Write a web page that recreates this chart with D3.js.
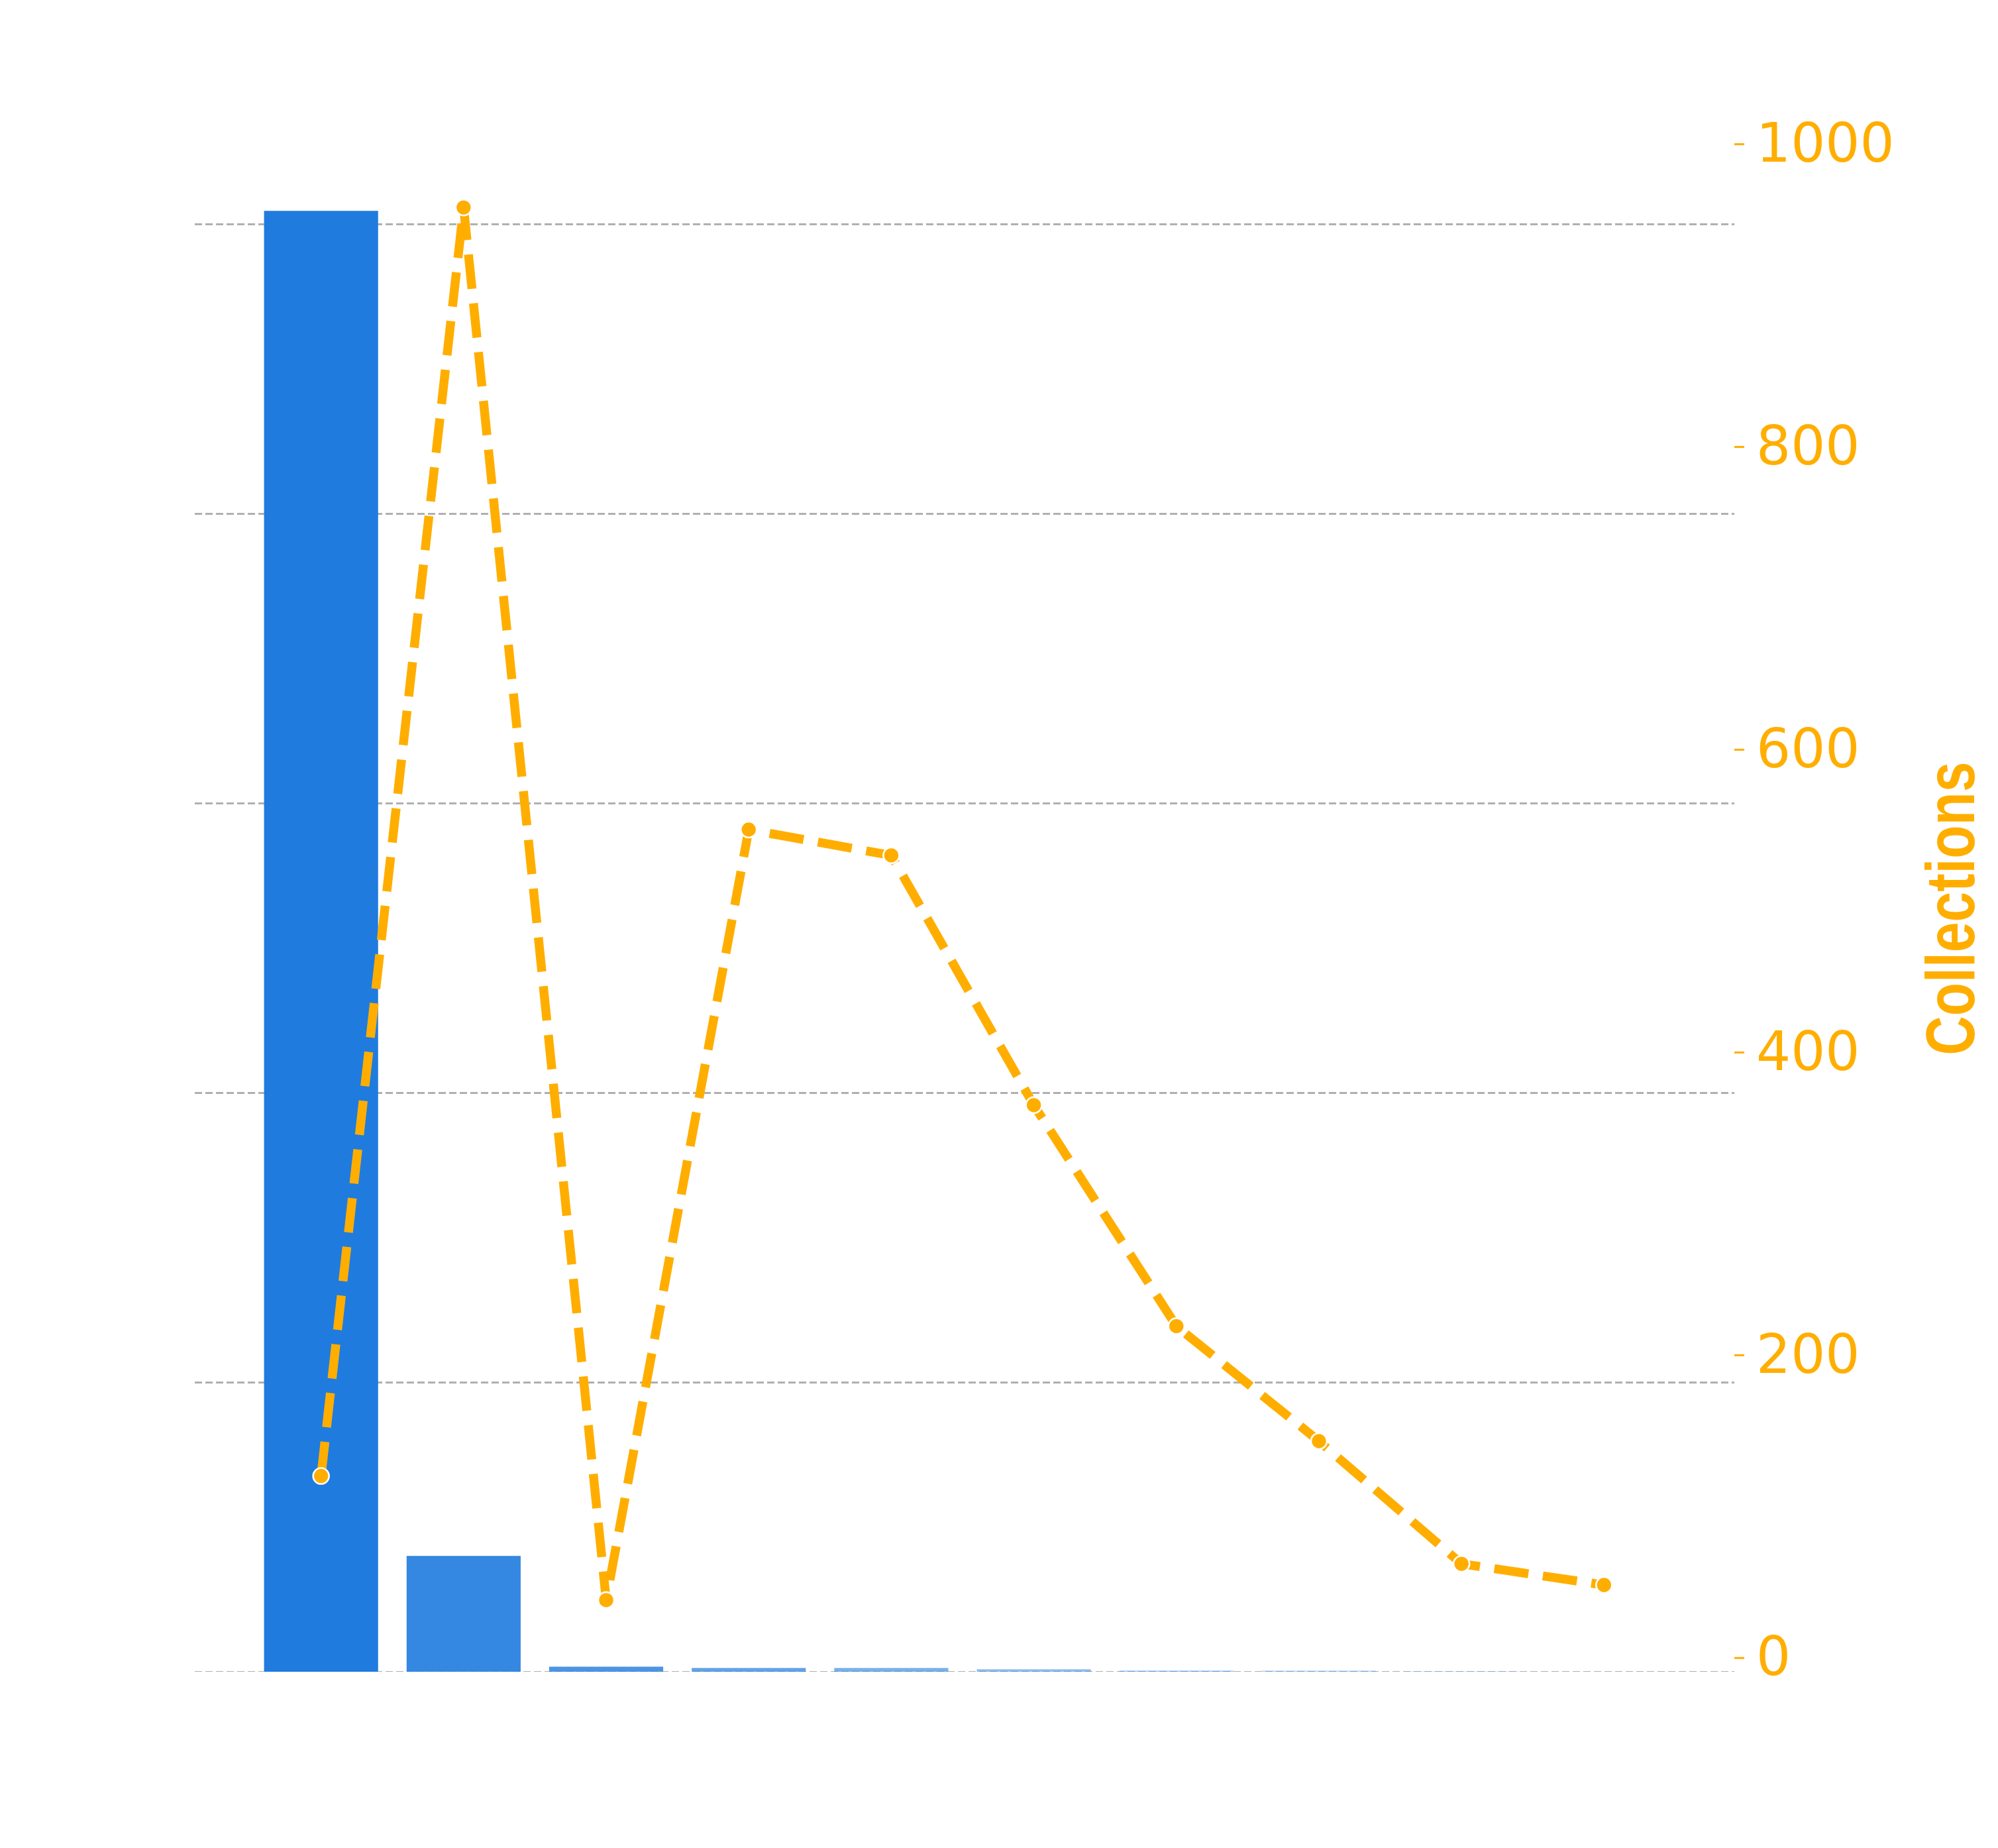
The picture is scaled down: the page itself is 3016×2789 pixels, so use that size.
<!DOCTYPE html>
<html>
<head>
<meta charset="utf-8">
<script src="https://cdn.jsdelivr.net/npm/d3@7"></script>
<style>
  body { margin: 0; background: #ffffff; }
</style>
</head>
<body>
<svg id="chart"></svg>
<script>
// chart values
const categories = ["1", "2", "3", "4", "5", "6", "7", "8", "9", "10"];
const barValues = [1009, 80, 3.5, 2.6, 2.6, 1.7, 0.8, 0.8, 0.4, 0];
const collections = [120, 958, 38, 547, 530, 365, 219, 143, 62, 48];
const rightTicks = [0, 200, 400, 600, 800, 1000];
const leftTicks = [0, 200, 400, 600, 800, 1000];
const rightLabel = "Collections";

const W = 3016, H = 2789;
const plot = { left: 294, right: 2618, top: 208, bottom: 2520 };
const orange = "#ffae00";
const barBlue = "#1f7bde";

var svg = d3.select("#chart")
    .attr("width", W)
    .attr("height", H);

svg.append("defs").append("clipPath")
    .attr("id", "clip")
    .append("rect")
    .attr("x", plot.left)
    .attr("y", plot.top)
    .attr("width", plot.right - plot.left)
    .attr("height", plot.bottom + 3 - plot.top);

// x band scale for categories
var xBand = d3.scaleBand()
    .domain(categories)
    .range([plot.left - 3, plot.right - 3])
    .paddingInner(0.2)
    .paddingOuter(0.5);

// left scale (bars), 5% headroom
var yLeft = d3.scaleLinear()
    .domain([0, d3.max(barValues) * 1.05])
    .range([plot.bottom + 3, plot.top]);

// right scale (line), 5% margin on both sides
var lo = d3.min(collections), hi = d3.max(collections);
var pad = (hi - lo) * 0.05;
var yRight = d3.scaleLinear()
    .domain([lo - pad, hi + pad])
    .range([plot.bottom, plot.top]);

// gridlines from left axis (clipped to plot box)
var gridWrap = svg.append("g")
    .attr("clip-path", "url(#clip)");
var grid = gridWrap.append("g")
    .attr("transform", "translate(" + plot.left + ",0)")
    .call(d3.axisLeft(yLeft)
        .tickValues(leftTicks)
        .tickSize(-(plot.right - plot.left))
        .tickFormat(""));
grid.select(".domain").remove();
grid.selectAll(".tick line")
    .attr("stroke", "#b0b0b0")
    .attr("stroke-width", 3)
    .attr("stroke-dasharray", "11,5");

// bars
svg.append("g")
    .selectAll("rect")
    .data(barValues)
    .enter()
    .append("rect")
    .attr("x", (d, i) => xBand(categories[i]))
    .attr("y", d => yLeft(d))
    .attr("width", xBand.bandwidth())
    .attr("height", d => yLeft(0) - yLeft(d))
    .attr("fill", barBlue)
    .attr("fill-opacity", (d, i) => 1 - i * 0.1);

// dashed line
var line = d3.line()
    .x((d, i) => xBand(categories[i]) + xBand.bandwidth() / 2)
    .y(d => yRight(d));

svg.append("path")
    .datum(collections)
    .attr("d", line)
    .attr("fill", "none")
    .attr("stroke", orange)
    .attr("stroke-width", 13.5)
    .attr("stroke-dasharray", "52,22")
    .attr("stroke-linejoin", "round")
    .attr("stroke-linecap", "butt");

// markers
svg.append("g")
    .selectAll("circle")
    .data(collections)
    .enter()
    .append("circle")
    .attr("cx", (d, i) => xBand(categories[i]) + xBand.bandwidth() / 2)
    .attr("cy", d => yRight(d))
    .attr("r", 12)
    .attr("fill", orange)
    .attr("stroke", "#ffffff")
    .attr("stroke-width", 2.6);

// right axis
var gR = svg.append("g")
    .attr("transform", "translate(" + plot.right + ",0)")
    .call(d3.axisRight(yRight)
        .tickValues(rightTicks)
        .tickFormat(d3.format("d"))
        .tickSize(15)
        .tickPadding(18));
gR.select(".domain").remove();
gR.selectAll(".tick line")
    .attr("stroke", orange)
    .attr("stroke-width", 3);
gR.selectAll(".tick text")
    .attr("fill", orange)
    .attr("font-family", "DejaVu Sans")
    .attr("font-size", 82);

// right axis label (condensed bold)
svg.append("text")
    .attr("transform", "translate(2980," + ((plot.top + plot.bottom) / 2 + 7) + ") rotate(-90)")
    .attr("text-anchor", "middle")
    .attr("font-family", "'Liberation Sans', Arial, sans-serif")
    .attr("font-weight", "bold")
    .attr("font-size", 103)
    .attr("textLength", 443)
    .attr("lengthAdjust", "spacingAndGlyphs")
    .attr("fill", orange)
    .text(rightLabel);
</script>
</body>
</html>
